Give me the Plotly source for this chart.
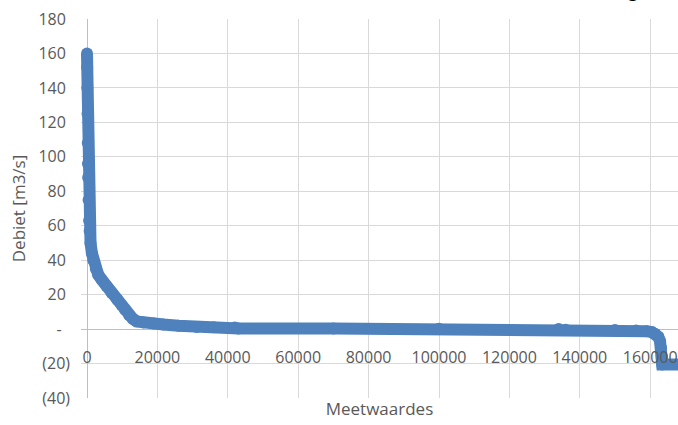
import plotly.graph_objects as go

# Flow duration curve: discharge values sorted from high to low
meetwaarde = [0, 40, 90, 150, 210, 270, 330, 450, 600, 750, 1000, 1400, 1800,
              2500, 3200, 4200, 5500, 7000, 8600, 9800, 10800, 12000, 13000,
              14100, 16000, 19000, 21700, 26000, 31200, 36000, 42000, 43000,
              70000, 100000, 134000, 136000, 150000, 156000, 159000, 160500,
              161500, 162300, 162800, 163100, 163300, 163400, 168000]
debiet = [160, 152, 140, 125, 108, 96, 88, 75, 63, 57, 50, 44, 40,
          35, 31.5, 28.6, 25, 21, 17, 14, 11.2, 8, 6,
          4.5, 3.8, 3.2, 2.7, 2.0, 1.2, 1.0, 0.9, 0.4,
          0.3, 0.2, 0.1, -0.4, -0.5, -0.8, -1.2, -1.8,
          -2.8, -4.5, -7, -11, -16, -20.5, -20.5]

# Axis ticks (accounting-style labels on the value axis)
x_ticks = [0, 20000, 40000, 60000, 80000, 100000, 120000, 140000, 160000]
x_labels = [str(v) for v in x_ticks]
y_ticks = [-40, -20, 0, 20, 40, 60, 80, 100, 120, 140, 160, 180]
y_labels = ["(40)", "(20)", "-\u00a0\u00a0", "20\u00a0", "40\u00a0", "60\u00a0",
            "80\u00a0", "100\u00a0", "120\u00a0", "140\u00a0", "160\u00a0", "180\u00a0"]

BLUE = "rgb(79,129,189)"
GRID = "#D9D9D9"
AXIS = "#BFBFBF"
TEXT = "#595959"
FONT = "Open Sans"

# a small empty strip left of x=0 so the thick curve is not clipped at the axis
x_min, x_max = -1705, 167900
y_min, y_max = -40, 180

fig = go.Figure()
fig.add_trace(go.Scatter(
    x=meetwaarde, y=debiet, mode="lines+markers",
    line=dict(color=BLUE, width=12),
    marker=dict(size=12, color=BLUE),
    cliponaxis=False, hoverinfo="x+y",
))

fig.update_layout(
    width=678, height=425,
    margin=dict(l=81, r=0, t=19, b=27),
    paper_bgcolor="white", plot_bgcolor="white",
    showlegend=False,
    font=dict(family=FONT, color=TEXT, size=16),
    xaxis=dict(
        range=[x_min, x_max],
        tickmode="array", tickvals=x_ticks, ticktext=x_labels,
        showgrid=True, gridcolor=GRID, gridwidth=1,
        zeroline=True, zerolinecolor=AXIS, zerolinewidth=1,
        showline=False, ticks="",
        anchor="free", position=(0 - y_min) / (y_max - y_min),
        ticklabelstandoff=17,
        tickfont=dict(family=FONT, size=16, color=TEXT),
        title=dict(text="Meetwaardes", standoff=36,
                   font=dict(family=FONT, size=17, color=TEXT)),
    ),
    yaxis=dict(
        range=[y_min, y_max],
        tickmode="array", tickvals=y_ticks, ticktext=y_labels,
        showgrid=True, gridcolor=GRID, gridwidth=1,
        zeroline=True, zerolinecolor=AXIS, zerolinewidth=1,
        showline=False, ticks="",
        ticklabelstandoff=10,
        tickfont=dict(family=FONT, size=16, color=TEXT),
        title=dict(text="Debiet [m3/s]", standoff=8,
                   font=dict(family=FONT, size=17, color=TEXT)),
    ),
    shapes=[dict(
        type="rect", xref="paper", yref="paper", layer="between",
        x0=0, x1=(0 - x_min) / (x_max - x_min) - 0.0005, y0=-0.01, y1=1.01,
        fillcolor="white", line=dict(width=0),
    )],
    annotations=[dict(
        text="g", xref="paper", yref="paper",
        x=(633 - 81) / 597, y=1 + (19 - 4) / 379,
        xanchor="center", yanchor="bottom", showarrow=False,
        font=dict(family=FONT, size=18, color="black"),
    )],
)

fig.write_html("out.html")
